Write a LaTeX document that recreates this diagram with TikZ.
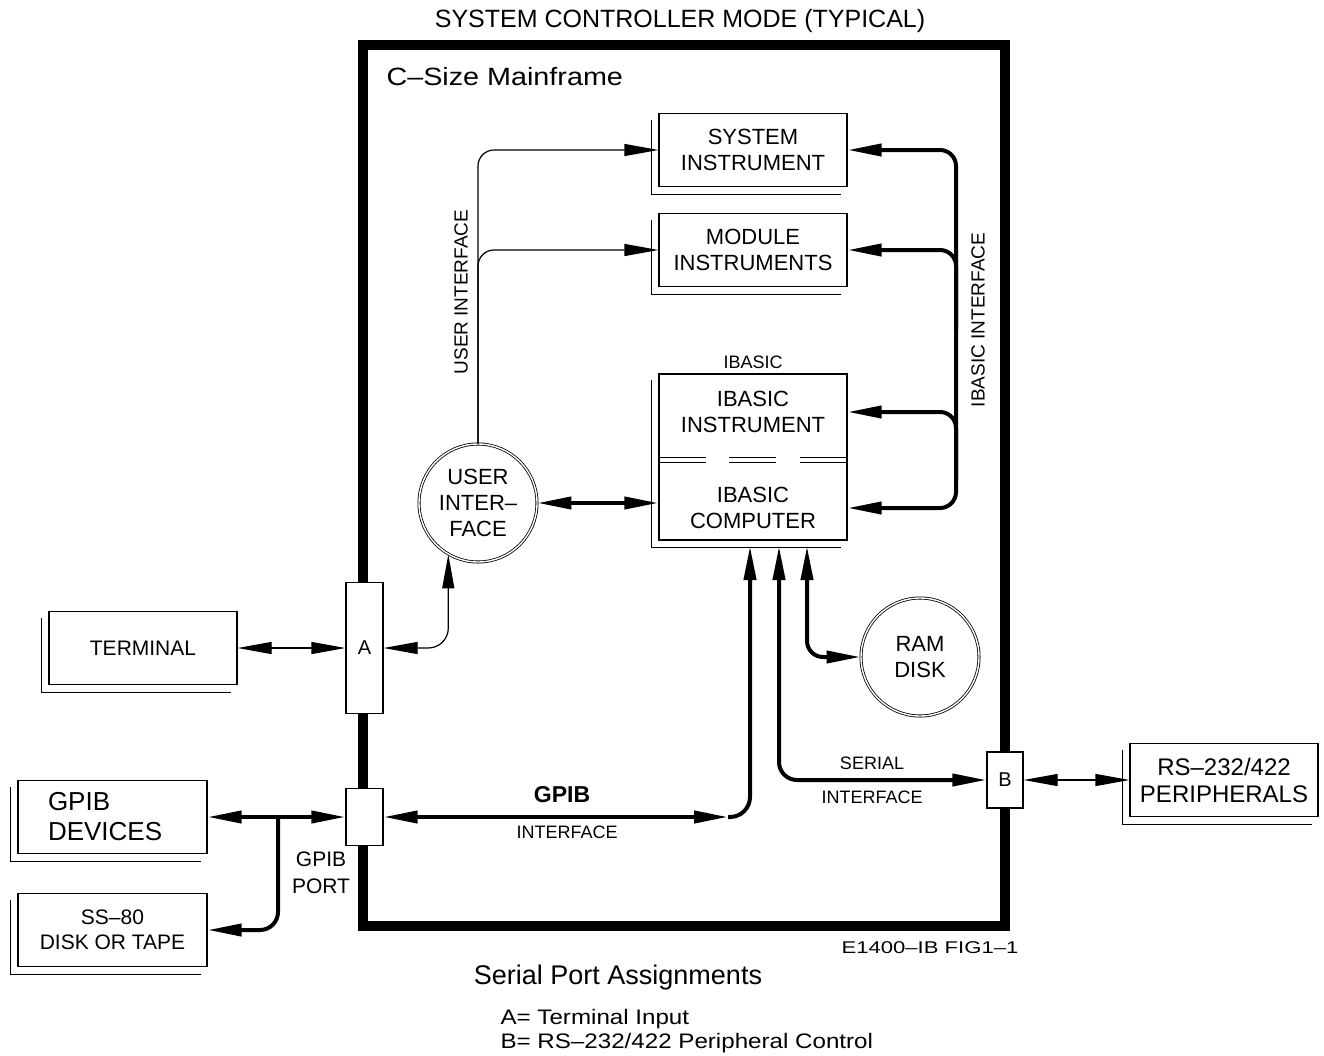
\documentclass[tikz,border=0pt]{standalone}
\usepackage{fontspec}
\setmainfont{Liberation Sans}
\newfontfamily\widesans[FakeStretch=1.15]{Liberation Sans}
\newfontfamily\widersans[FakeStretch=1.3]{Liberation Sans}
\usetikzlibrary{arrows.meta}
\begin{document}
\begin{tikzpicture}[x=1pt,y=-1pt,
  >={Triangle[length=34pt,width=12pt]},
  boxline/.style={line width=1.2pt},
  wire/.style={line width=1.2pt},
  bus/.style={line width=4pt},
  unit/.style={draw, line width=1.2pt, inner sep=0pt, minimum width=188pt,
    minimum height=73pt, align=center, font=\fontsize{22}{26}\selectfont},
  port/.style={draw, fill=white, line width=1.2pt, inner sep=0pt,
    minimum width=37pt, font=\fontsize{20}{24}\selectfont},
  disc/.style={circle, draw, double, line width=0.8pt, double distance=1.4pt,
    minimum size=118pt, inner sep=0pt, align=center,
    font=\fontsize{22}{26}\selectfont},
  cad/.style={font=\fontsize{18}{22}\selectfont}
]
\useasboundingbox (0,0) rectangle (1324,1055);

% mainframe outline and headings
\draw[line width=10pt] (363,45) rectangle (1005,926);
\node[font=\fontsize{25}{30}\selectfont] (title) at (680,21) {SYSTEM CONTROLLER MODE (TYPICAL)};
\node[anchor=west, font=\widesans\fontsize{25}{30}\selectfont] (cs) at (383,77) {C–Size Mainframe};

% instrument blocks
\node[unit] (sys) at (753,150) {SYSTEM\\INSTRUMENT};
\node[unit] (mod) at (753,250) {MODULE\\INSTRUMENTS};
\node[draw, boxline, minimum width=188pt, minimum height=166pt, inner sep=0pt] (ib) at (753,457) {};
\node[cad] (ibl) at (753,362) {IBASIC};
\node[align=center, font=\fontsize{22}{26}\selectfont] (ibi) at (753,412) {IBASIC\\INSTRUMENT};
\node[align=center, font=\fontsize{22}{26}\selectfont] (ibc) at (753,508) {IBASIC\\COMPUTER};
\foreach \a/\b in {659/706,729/776,800/847}
  \draw[line width=0.9pt] (\a,457) -- (\b,457) (\a,462) -- (\b,462);

% outside equipment
\node[unit, font=\fontsize{21}{25}\selectfont] (term) at (143,648) {TERMINAL};
\node[unit, minimum width=189pt, text width=129pt, align=left,
  font=\fontsize{26}{30}\selectfont] (gdev) at (112.5,817) {GPIB\\DEVICES};
\node[unit, minimum width=189pt, font=\fontsize{21}{25}\selectfont] (ss) at (112.5,930) {SS–80\\DISK OR TAPE};
\node[unit, font=\fontsize{24}{27}\selectfont] (rs) at (1224,780) {RS–232/422\\PERIPHERALS};

% drop shadows of the blocks
\foreach \n in {sys,mod,ib,term,gdev,ss,rs}
  \draw[boxline] ([shift={(-7,7)}]\n.north west) |- ([shift={(-7,7)}]\n.south east);

% ports in the mainframe wall
\node[port, minimum height=131pt] (pa) at (364.5,648) {A};
\node[port, minimum height=57pt] (gp) at (364.5,817) {};
\node[port, minimum width=36pt, minimum height=56pt] (pb) at (1005,780) {B};

% round elements
\node[disc] (ui) at (478,503) {USER\\INTER–\\FACE};
\node[disc] (ram) at (920,657) {RAM\\DISK};

% user interface links
\draw[wire, <->] (term.east) -- (pa.west);
\draw[wire, <->, rounded corners=20pt] (pa.east) -| (ui.240);
\draw[wire, ->, rounded corners=16pt] (ui.north) |- (sys.west);
\draw[wire, ->, rounded corners=16pt] (ui.north) |- (mod.west);
\draw[bus, <->] (ui.east) -- (ui.east -| ib.west);
\node[rotate=90, font=\fontsize{19}{22}\selectfont] (uil) at (461,292) {USER INTERFACE};

% IBASIC interface bus
\coordinate (busv) at (956,330);
\coordinate (busw) at (956,480);
\draw[bus, <->, rounded corners=16pt] (sys.east) -| (busv) |- (ib.east |- ibc);
\draw[bus, <-, rounded corners=16pt] (mod.east) -| (busv);
\draw[bus, <-, rounded corners=16pt] (ib.east |- ibi) -| (busw);
\node[rotate=90, font=\fontsize{19}{22}\selectfont] (ibil) at (978,320) {IBASIC INTERFACE};

% GPIB
\coordinate (gtee) at (278,817);
\coordinate (gbend) at (728,817);
\coordinate (g1) at (750,546);
\draw[bus, <->] (gdev.east) -- (gp.west);
\draw[bus, <-, rounded corners=18pt] (ss.east) -| (gtee);
\draw[bus, <->] (gp.east) -- (gbend);
\draw[bus, ->, rounded corners=20pt] (gbend) -| (g1);
\node[font=\fontsize{23}{26}\selectfont\bfseries] (gl) at (562,795) {GPIB};
\node[cad] (gil) at (567,832) {INTERFACE};
\node[font=\fontsize{21}{27}\selectfont, align=center] (gpl) at (321,873) {GPIB\\PORT};

% serial interface and RAM disk
\coordinate (s1) at (779,546);
\coordinate (r1) at (807,546);
\draw[bus, <->, rounded corners=18pt] (s1) |- (pb.west);
\draw[bus, <->, rounded corners=16pt] (r1) |- (ram.west);
\draw[wire, <->] (pb.east) -- (rs.west);
\node[cad] (sl) at (872,763) {SERIAL};
\node[cad] (sil) at (872,797) {INTERFACE};

% notes
\node[font=\widersans\fontsize{17}{20}\selectfont] (fig) at (930,948) {E1400–IB FIG1–1};
\node[font=\fontsize{27}{30}\selectfont] (spa) at (618,978) {Serial Port Assignments};
\node[anchor=west, align=left, font=\widesans\fontsize{21}{24}\selectfont] (asg) at (497,1031)
  {A= Terminal Input\\B= RS–232/422 Peripheral Control};
\end{tikzpicture}
\end{document}
